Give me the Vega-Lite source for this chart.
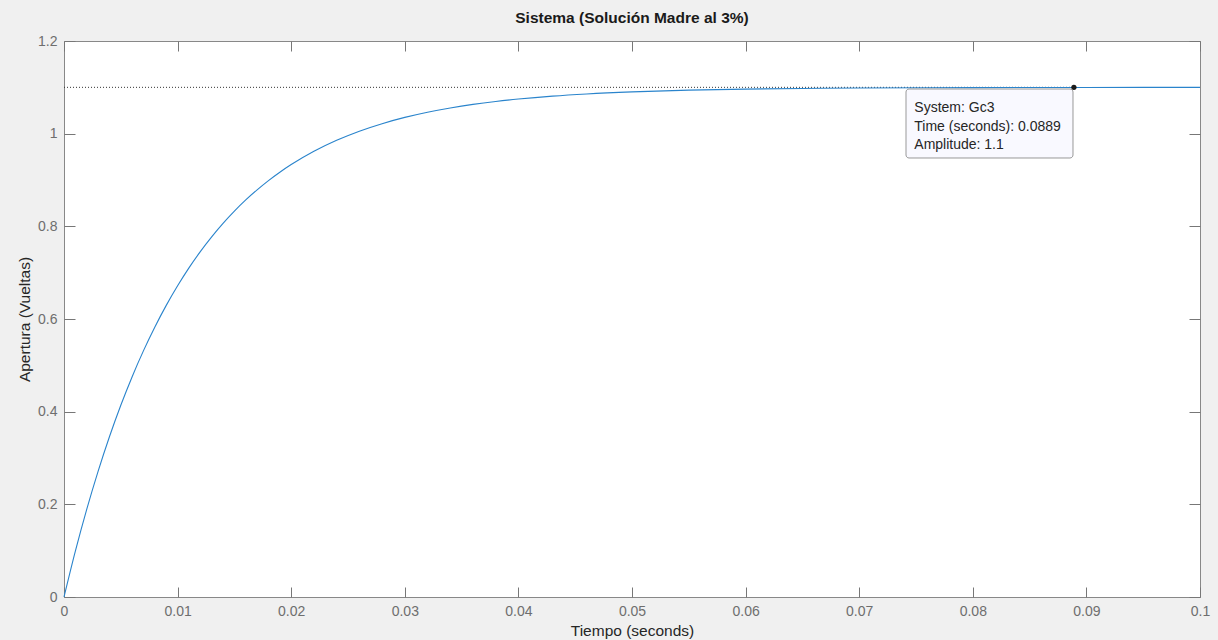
{
  "$schema": "https://vega.github.io/schema/vega-lite/v6.json",
  "width": 1136,
  "height": 556,
  "autosize": "none",
  "padding": {"left": 64, "top": 41, "right": 18, "bottom": 43},
  "background": "#f0f0f0",
  "config": {
    "font": "Liberation Sans",
    "view": {"fill": "white", "stroke": "#888888", "strokeWidth": 1}
  },
  "title": {
    "text": "Sistema (Solución Madre al 3%)",
    "font": "Liberation Sans",
    "fontSize": 15.5,
    "fontWeight": "bold",
    "color": "#1a1a1a",
    "anchor": "middle",
    "offset": 8
  },
  "datasets": {
    "curve": [
      {"t": 0, "a": 0},
      {"t": 0.001, "a": 0.099},
      {"t": 0.002, "a": 0.1891},
      {"t": 0.003, "a": 0.2711},
      {"t": 0.004, "a": 0.3458},
      {"t": 0.005, "a": 0.4137},
      {"t": 0.006, "a": 0.4755},
      {"t": 0.007, "a": 0.5317},
      {"t": 0.008, "a": 0.5828},
      {"t": 0.009, "a": 0.6294},
      {"t": 0.010, "a": 0.6717},
      {"t": 0.011, "a": 0.7103},
      {"t": 0.012, "a": 0.7454},
      {"t": 0.013, "a": 0.7773},
      {"t": 0.014, "a": 0.8064},
      {"t": 0.015, "a": 0.8328},
      {"t": 0.016, "a": 0.8569},
      {"t": 0.017, "a": 0.8787},
      {"t": 0.018, "a": 0.8987},
      {"t": 0.019, "a": 0.9168},
      {"t": 0.020, "a": 0.9333},
      {"t": 0.022, "a": 0.962},
      {"t": 0.024, "a": 0.9857},
      {"t": 0.026, "a": 1.0054},
      {"t": 0.028, "a": 1.0216},
      {"t": 0.030, "a": 1.0351},
      {"t": 0.032, "a": 1.0463},
      {"t": 0.034, "a": 1.0555},
      {"t": 0.036, "a": 1.0632},
      {"t": 0.038, "a": 1.0695},
      {"t": 0.040, "a": 1.0747},
      {"t": 0.043, "a": 1.081},
      {"t": 0.046, "a": 1.0857},
      {"t": 0.050, "a": 1.0902},
      {"t": 0.055, "a": 1.0939},
      {"t": 0.060, "a": 1.0962},
      {"t": 0.065, "a": 1.0976},
      {"t": 0.070, "a": 1.0985},
      {"t": 0.080, "a": 1.0994},
      {"t": 0.0889, "a": 1.0997},
      {"t": 0.090, "a": 1.0998},
      {"t": 0.100, "a": 1.0999}
    ],
    "ref": [{"t0": 0, "t1": 0.0889, "a": 1.1}],
    "marker": [{"t": 0.0889, "a": 1.1}],
    "box": [{"t0": 0.07412, "t1": 0.08882, "a0": 0.9475, "a1": 1.0964}],
    "tip": [
      {"t": 0.07485, "a": 1.0461, "label": "System: Gc3"},
      {"t": 0.07485, "a": 1.0064, "label": "Time (seconds): 0.0889"},
      {"t": 0.07485, "a": 0.9676, "label": "Amplitude: 1.1"}
    ]
  },
  "resolve": {"axis": {"x": "independent", "y": "independent"}},
  "layer": [
    {
      "data": {"name": "ref"},
      "mark": {"type": "rule", "color": "#333333", "strokeWidth": 1, "strokeDash": [1, 2]},
      "encoding": {
        "x": {"field": "t0", "type": "quantitative", "scale": {"domain": [0, 0.1], "nice": false},
          "axis": {"orient": "top", "values": [0, 0.01, 0.02, 0.03, 0.04, 0.05, 0.06, 0.07, 0.08, 0.09, 0.1], "labels": false, "title": null, "domain": false, "grid": false, "tickSize": -10, "tickColor": "#777777", "tickWidth": 1}},
        "x2": {"field": "t1"},
        "y": {"field": "a", "type": "quantitative", "scale": {"domain": [0, 1.2], "nice": false},
          "axis": {"orient": "right", "values": [0, 0.2, 0.4, 0.6, 0.8, 1, 1.2], "labels": false, "title": null, "domain": false, "grid": false, "tickSize": -11, "tickColor": "#777777", "tickWidth": 1}}
      }
    },
    {
      "data": {"name": "curve"},
      "mark": {"type": "line", "color": "#2a84cc", "strokeWidth": 1.1, "interpolate": "monotone"},
      "encoding": {
        "x": {"field": "t", "type": "quantitative", "scale": {"domain": [0, 0.1], "nice": false},
          "axis": {"orient": "bottom", "values": [0, 0.01, 0.02, 0.03, 0.04, 0.05, 0.06, 0.07, 0.08, 0.09, 0.1], "format": "~g", "title": "Tiempo (seconds)", "grid": false, "domain": false, "tickSize": -10, "tickColor": "#777777", "labelPadding": 17, "labelFont": "Liberation Sans", "labelFontSize": 14, "labelColor": "#6e6e6e", "labelFlush": false, "titleFont": "Liberation Sans", "titleFontSize": 15.5, "titleFontWeight": "normal", "titleColor": "#262626", "titlePadding": 5}},
        "y": {"field": "a", "type": "quantitative", "scale": {"domain": [0, 1.2], "nice": false},
          "axis": {"orient": "left", "values": [0, 0.2, 0.4, 0.6, 0.8, 1, 1.2], "format": "~g", "title": "Apertura (Vueltas)", "grid": false, "domain": false, "tickSize": -11, "tickColor": "#777777", "labelPadding": 18, "labelFont": "Liberation Sans", "labelFontSize": 14, "labelColor": "#6e6e6e", "labelFlush": false, "titleFont": "Liberation Sans", "titleFontSize": 15.5, "titleFontWeight": "normal", "titleColor": "#262626", "titlePadding": 5}}
      }
    },
    {
      "data": {"name": "box"},
      "mark": {"type": "rect", "fill": "#f9f9ff", "stroke": "#999999", "strokeWidth": 1, "cornerRadius": 3},
      "encoding": {
        "x": {"field": "t0", "type": "quantitative", "scale": {"domain": [0, 0.1], "nice": false}, "axis": null},
        "x2": {"field": "t1"},
        "y": {"field": "a0", "type": "quantitative", "scale": {"domain": [0, 1.2], "nice": false}, "axis": null},
        "y2": {"field": "a1"}
      }
    },
    {
      "data": {"name": "tip"},
      "mark": {"type": "text", "align": "left", "baseline": "alphabetic", "font": "Liberation Sans", "fontSize": 14, "color": "#262626"},
      "encoding": {
        "x": {"field": "t", "type": "quantitative", "scale": {"domain": [0, 0.1], "nice": false}, "axis": null},
        "y": {"field": "a", "type": "quantitative", "scale": {"domain": [0, 1.2], "nice": false}, "axis": null},
        "text": {"field": "label"}
      }
    },
    {
      "data": {"name": "marker"},
      "mark": {"type": "point", "filled": true, "color": "#1a1a1a", "size": 28, "opacity": 1},
      "encoding": {
        "x": {"field": "t", "type": "quantitative", "scale": {"domain": [0, 0.1], "nice": false}, "axis": null},
        "y": {"field": "a", "type": "quantitative", "scale": {"domain": [0, 1.2], "nice": false}, "axis": null}
      }
    }
  ]
}
